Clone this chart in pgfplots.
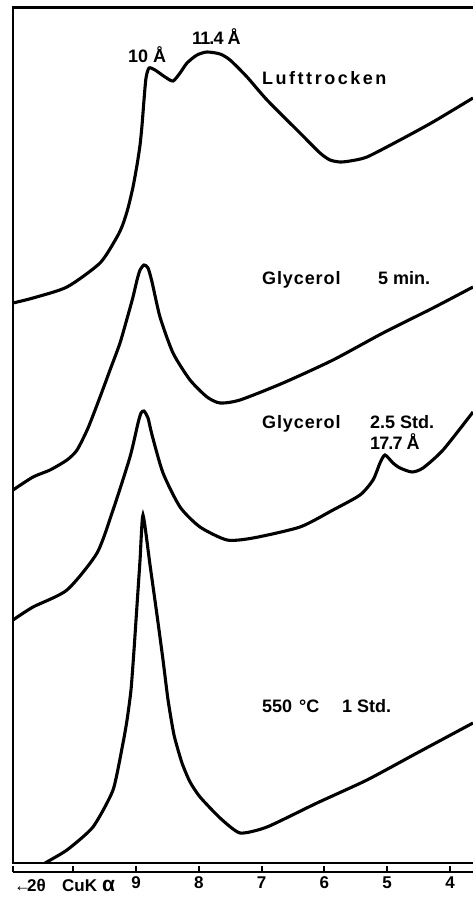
\documentclass[border=0pt]{standalone}
\usepackage{fontspec}
\setmainfont{Liberation Sans}
\usepackage{pgfplots}
\usepackage{pgfplotstable}
\pgfplotsset{compat=1.18}

% x: 2theta (deg), y: intensity (arbitrary, offset curves)
\pgfplotstableread{
x y
10.959 561
10.640 566
10.099 577
9.573 601
9.303 627
9.207 640
9.127 656
9.048 677
8.984 699
8.936 719
8.904 739
8.873 764
8.841 786
8.793 796
8.697 794
8.538 787
8.411 783
8.299 791
8.188 801
8.029 809
7.869 812
7.662 810
7.503 804
7.232 787
6.914 764
6.389 731
6.070 711
5.911 704
5.752 702
5.592 703
5.322 707
4.796 724
4.271 742
3.634 766
}\luft

\pgfplotstableread{
x y
10.959 374
10.640 387
10.369 394
10.099 404
9.939 414
9.764 436
9.573 467
9.414 494
9.255 521
9.127 549
9.048 567
8.984 584
8.936 594
8.873 599
8.809 596
8.745 582
8.618 547
8.411 511
8.140 484
7.869 467
7.662 461
7.344 464
6.659 481
5.863 504
5.067 531
4.271 556
3.634 577
}\glyA

\pgfplotstableread{
x y
10.959 244
10.640 257
10.099 274
9.621 311
9.366 354
9.096 407
8.968 441
8.920 451
8.873 453
8.809 446
8.745 429
8.570 391
8.299 357
7.981 337
7.551 324
7.137 326
6.389 337
5.863 354
5.433 369
5.226 384
5.115 401
5.035 409
4.908 401
4.796 396
4.605 392
4.430 396
4.111 414
3.634 452
}\glyB

\pgfplotstableread{
x y
10.449 1
10.099 14
9.685 37
9.366 74
9.207 121
9.143 144
9.080 174
9.032 214
8.984 259
8.936 304
8.889 349
8.777 299
8.666 249
8.570 204
8.490 164
8.395 129
8.268 101
8.140 82
7.981 67
7.662 46
7.344 31
6.914 37
6.118 61
5.322 84
4.525 111
3.634 141
}\hot

\newcommand{\lbl}{\fontsize{18}{20}\selectfont\bfseries}
\newcommand{\tlb}{\fontsize{17}{19}\selectfont\bfseries}
\newcommand{\ls}[2]{{\addfontfeatures{LetterSpace=#1}#2}}

\begin{document}
\begin{tikzpicture}
\useasboundingbox (0,0) rectangle (473pt,903pt);
\begin{axis}[
  at={(13pt,40pt)}, anchor=south west,
  scale only axis, width=460pt, height=855pt,
  x dir=reverse, xmin=3.634, xmax=10.959,
  ymin=1, ymax=856,
  hide axis, clip=true]
\addplot[black, line width=3.1pt, smooth, tension=0.4] table {\luft};
\addplot[black, line width=3.1pt, smooth, tension=0.4] table {\glyA};
\addplot[black, line width=3.1pt, smooth, tension=0.4] table {\glyB};
\addplot[black, line width=3.1pt, smooth, tension=0.35] table {\hot};
\end{axis}
\begin{axis}[
  at={(13pt,31pt)}, anchor=south west,
  scale only axis, width=460pt, height=10pt,
  x dir=reverse, xmin=3.634, xmax=10.959,
  ymin=0, ymax=1,
  axis x line=bottom, axis y line=none,
  axis line style={-, line width=2.2pt},
  xtick={4,5,6,7,8,9,10,10.959},
  xticklabels={4,5,6,7,8,9,{},{}},
  major tick length=6pt, tick align=inside,
  tick style={line width=2pt, black},
  xticklabel style={font=\tlb, anchor=base, yshift=-16pt}]
\addplot[draw=none] coordinates {(5,0.5)};
\end{axis}
% frame
\draw[line width=2.7pt] (13pt,40pt) -- (13pt,895pt);
\draw[line width=3pt] (11.7pt,895pt) -- (475pt,895pt);
\draw[line width=2.7pt] (11.7pt,40pt) -- (475pt,40pt);
% labels
\node[anchor=base west, inner sep=0] at (128pt,840pt) {\lbl 10 Å};
\node[anchor=base west, inner sep=0] at (192pt,858pt) {\lbl\ls{-5}{11.4 Å}};
\node[anchor=base west, inner sep=0] at (262pt,818pt) {\lbl\ls{14}{Lufttrocken}};
\node[anchor=base west, inner sep=0] at (262pt,618pt) {\lbl\ls{5}{Glycerol}};
\node[anchor=base west, inner sep=0] at (378pt,618pt) {\lbl 5 min.};
\node[anchor=base west, inner sep=0] at (262pt,474pt) {\lbl\ls{5}{Glycerol}};
\node[anchor=base west, inner sep=0] at (370pt,474pt) {\lbl 2.5 Std.};
\node[anchor=base west, inner sep=0] at (370pt,453pt) {\lbl\ls{-5}{17.7 Å}};
\node[anchor=base west, inner sep=0] at (262pt,190pt) {\lbl 550};
\node[anchor=base west, inner sep=0] at (299pt,190pt) {\lbl °C};
\node[anchor=base west, inner sep=0] at (342pt,190pt) {\lbl 1 Std.};
\node[anchor=base west, inner sep=0] at (14pt,11pt) {\tlb ←};
\node[anchor=base west, inner sep=0] at (27pt,11pt) {\tlb 2θ};
\node[anchor=base west, inner sep=0] at (62pt,11pt) {\tlb CuK};
\node[anchor=base west, inner sep=0] at (102pt,11pt) {\fontsize{21}{23}\selectfont\bfseries α};
\end{tikzpicture}
\end{document}
